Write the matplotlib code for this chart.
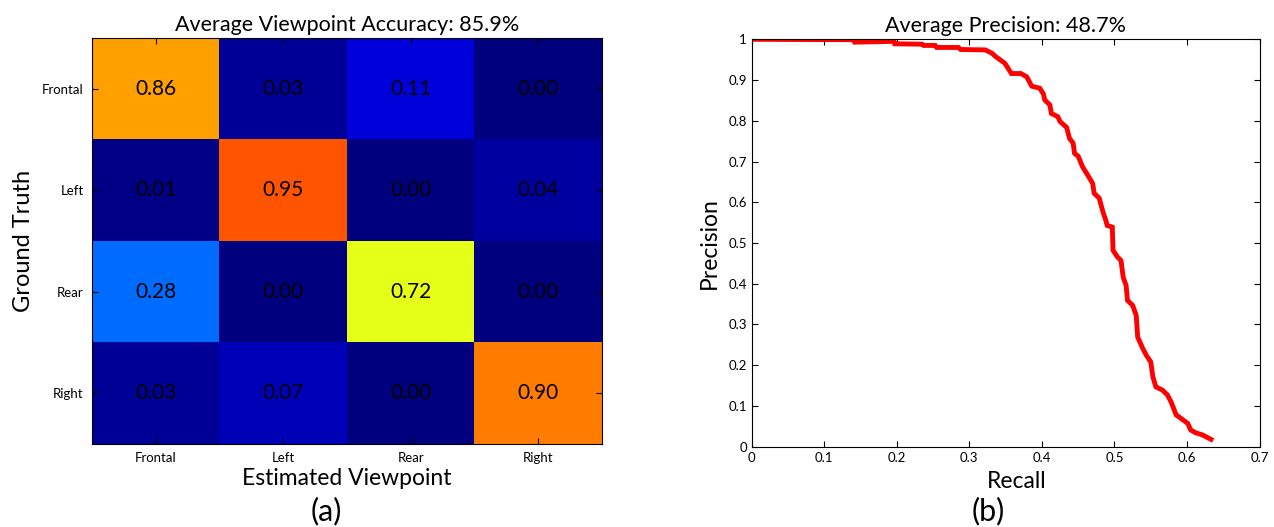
import matplotlib
matplotlib.use("Agg")
import matplotlib.pyplot as plt
from matplotlib.colors import LinearSegmentedColormap
import numpy as np

plt.rcParams['font.family'] = ['Lato', 'DejaVu Sans']

# confusion matrix (rows = ground truth, cols = estimated)
views = ["Frontal", "Left", "Rear", "Right"]
conf = [[0.86, 0.03, 0.11, 0.00],
        [0.01, 0.95, 0.00, 0.04],
        [0.28, 0.00, 0.72, 0.00],
        [0.03, 0.07, 0.00, 0.90]]
avg_acc = 85.9

# precision / recall curve
recall = [0.000, 0.141, 0.142, 0.196, 0.197, 0.235, 0.237, 0.253, 0.255, 0.285,
          0.288, 0.322, 0.331, 0.336, 0.349, 0.358, 0.371, 0.379, 0.386, 0.397,
          0.402, 0.404, 0.411, 0.413, 0.422, 0.425, 0.434, 0.438, 0.443, 0.445,
          0.450, 0.456, 0.463, 0.470, 0.472, 0.479, 0.484, 0.488, 0.490, 0.497,
          0.498, 0.504, 0.509, 0.512, 0.516, 0.518, 0.525, 0.530, 0.532, 0.539,
          0.544, 0.550, 0.553, 0.557, 0.566, 0.573, 0.578, 0.585, 0.592, 0.601,
          0.605, 0.612, 0.621, 0.633]
precision = [1.000, 0.999, 0.993, 0.995, 0.989, 0.988, 0.985, 0.985, 0.980, 0.980,
             0.975, 0.974, 0.966, 0.958, 0.941, 0.916, 0.916, 0.908, 0.885, 0.880,
             0.866, 0.851, 0.839, 0.818, 0.810, 0.798, 0.784, 0.757, 0.745, 0.720,
             0.713, 0.687, 0.667, 0.646, 0.622, 0.610, 0.577, 0.556, 0.543, 0.539,
             0.482, 0.466, 0.457, 0.416, 0.396, 0.359, 0.347, 0.322, 0.269, 0.241,
             0.224, 0.208, 0.171, 0.147, 0.139, 0.127, 0.110, 0.078, 0.069, 0.057,
             0.041, 0.034, 0.029, 0.018]
avg_prec = 48.7

# matlab style jet
mjet = LinearSegmentedColormap('mjet', {
    'red':   [(0, 0, 0), (0.375, 0, 0), (0.625, 1, 1), (0.875, 1, 1), (1, 0.5, 0.5)],
    'green': [(0, 0, 0), (0.125, 0, 0), (0.375, 1, 1), (0.625, 1, 1), (0.875, 0, 0), (1, 0, 0)],
    'blue':  [(0, 0.5, 0.5), (0.125, 1, 1), (0.375, 1, 1), (0.625, 0, 0), (1, 0, 0)],
})

fig = plt.figure(figsize=(12.74, 5.27), dpi=100)

# (a) confusion matrix
ax1 = fig.add_axes([0.0722, 0.1575, 0.4003, 0.770])
ax1.imshow(np.array(conf), cmap=mjet, vmin=0, vmax=1.2, aspect='auto',
           interpolation='nearest')
for i in range(len(views)):
    for j in range(len(views)):
        ax1.text(j, i, "%.2f" % conf[i][j], ha='center', va='center',
                 fontsize=15, color='black')
ax1.set_xticks(range(len(views)))
ax1.set_yticks(range(len(views)))
ax1.set_xticklabels(views, fontsize=9.5)
ax1.set_yticklabels(views, fontsize=9.5)
ax1.tick_params(direction='in', top=True, right=True, length=4, pad=6)
ax1.set_title("Average Viewpoint Accuracy: %.1f%%" % avg_acc, fontsize=15.5, pad=5)
ax1.set_xlabel("Estimated Viewpoint", fontsize=16.5, labelpad=3)
ax1.set_ylabel("Ground Truth", fontsize=17, labelpad=6)
fig.text(326 / 1274, 1 - 511 / 527, "(a)", ha='center', va='center', fontsize=22)

# (b) precision-recall
ax2 = fig.add_axes([0.590, 0.1524, 0.3987, 0.773])
ax2.plot(recall, precision, color='red', lw=3.5, solid_joinstyle='miter')
ax2.set_xlim(0, 0.7)
ax2.set_ylim(0, 1)
ax2.set_xticks(np.arange(0, 0.71, 0.1))
ax2.set_xticklabels(["0", "0.1", "0.2", "0.3", "0.4", "0.5", "0.6", "0.7"], fontsize=9.5)
ax2.set_yticks(np.arange(0, 1.01, 0.1))
ax2.set_yticklabels(["0", "0.1", "0.2", "0.3", "0.4", "0.5", "0.6", "0.7", "0.8", "0.9", "1"],
                    fontsize=9.5)
ax2.tick_params(direction='in', top=True, right=True, length=4)
ax2.set_title("Average Precision: %.1f%%" % avg_prec, fontsize=15.5, pad=5)
ax2.set_xlabel("Recall", fontsize=16.5, labelpad=3)
ax2.xaxis.set_label_coords((1017 - 751) / 509, -0.06)
ax2.set_ylabel("Precision", fontsize=16.5, labelpad=6)
fig.text(988 / 1274, 1 - 511 / 527, "(b)", ha='center', va='center', fontsize=22)

fig.savefig("out.png", dpi=100)
